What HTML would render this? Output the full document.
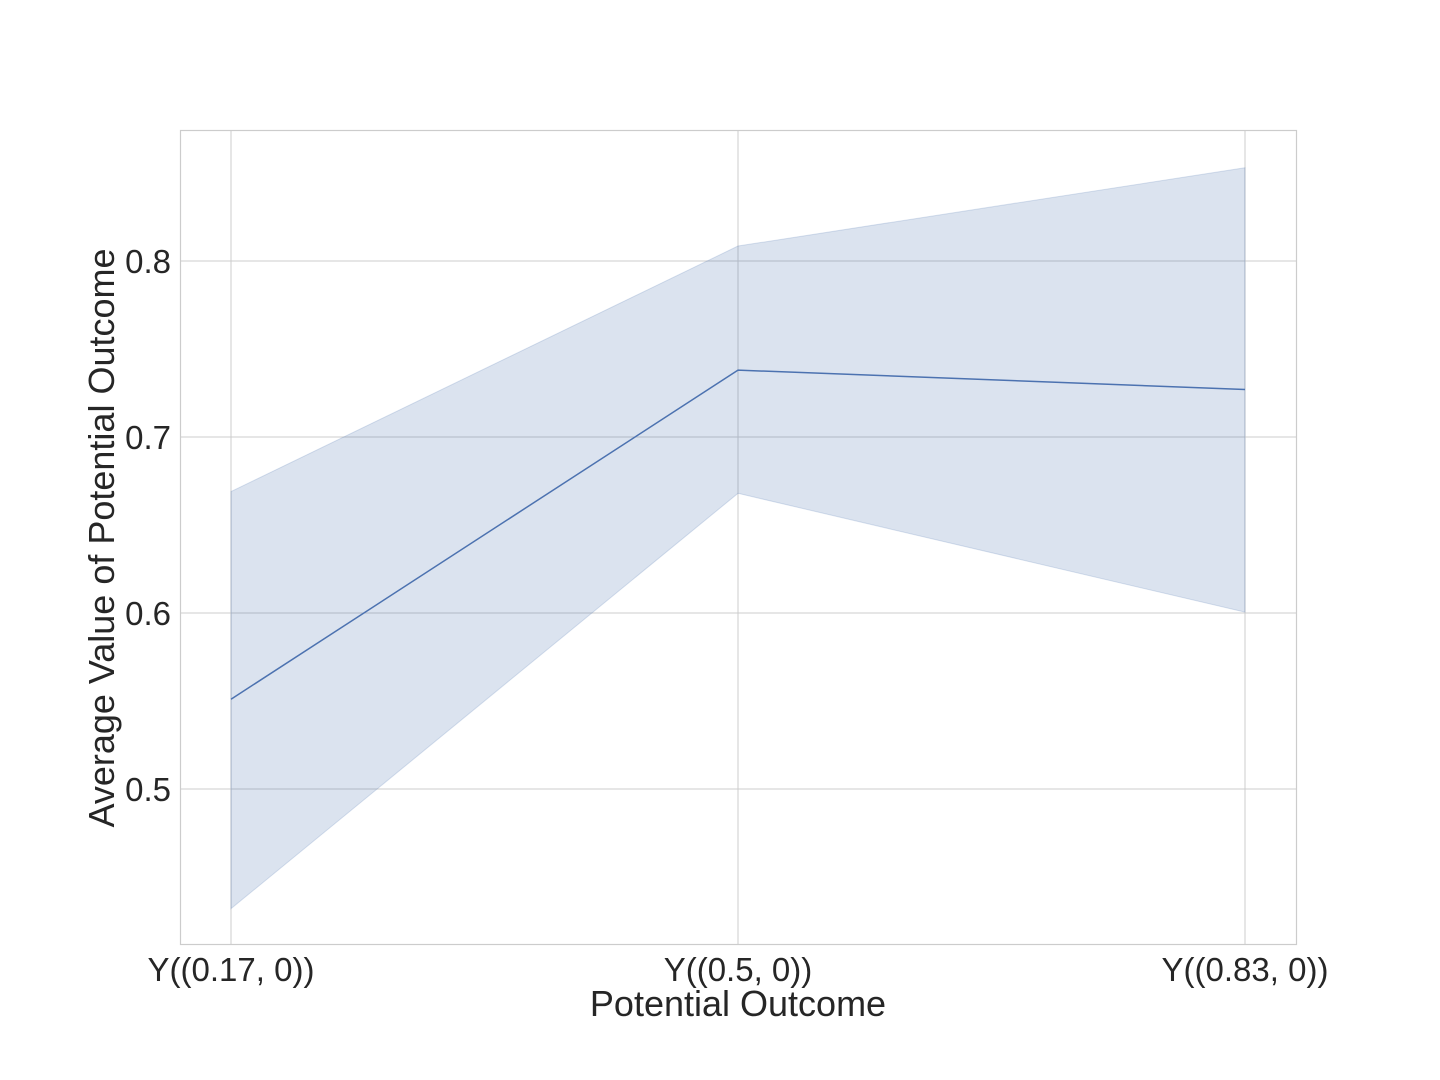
<!DOCTYPE html>
<html><head><meta charset="utf-8"><style>
html,body{margin:0;padding:0;background:#fff;}
svg{display:block;font-family:"Liberation Sans",Arial,sans-serif;}
</style></head><body>
<svg id="chart" width="1440" height="1080">
  <g id="grid"></g>
  <g id="band"></g>
  <g id="line"></g>
  <rect x="180.5" y="130.5" width="1116" height="814" fill="none" stroke="#cccccc" stroke-width="1.2"/>
  <g id="ticks"></g>
  <text x="738" y="1016" font-size="36" fill="#262626" text-anchor="middle">Potential Outcome</text>
  <text transform="translate(114,538) rotate(-90)" font-size="36" fill="#262626" text-anchor="middle">Average Value of Potential Outcome</text>
</svg>
<script>
const categories = ["Y((0.17, 0))", "Y((0.5, 0))", "Y((0.83, 0))"];
const meanValues = [0.551, 0.738, 0.727];
const upperValues = [0.669, 0.8085, 0.853];
const lowerValues = [0.432, 0.668, 0.6005];
const yTicks = [0.5, 0.6, 0.7, 0.8];

const NS = "http://www.w3.org/2000/svg";
function xPos(i){ return 231 + i * 507; }
function yPos(v){ return 261 + (0.8 - v) * 1760; }
function mk(tag, attrs, parent){ const e=document.createElementNS(NS,tag); for(const k in attrs) e.setAttribute(k,attrs[k]); parent.appendChild(e); return e; }

const grid=document.getElementById('grid'), ticks=document.getElementById('ticks');
yTicks.forEach(v=>{
  const l=mk('line',{x1:180,x2:1296,y1:yPos(v),y2:yPos(v),stroke:'#cccccc','stroke-width':1},grid);
  
  
  const t=mk('text',{x:171,y:yPos(v)+12,'font-size':33,fill:'#262626','text-anchor':'end'},ticks);
  t.textContent=v.toFixed(1);
  
  
});
categories.forEach((c,i)=>{
  const l=mk('line',{x1:xPos(i),x2:xPos(i),y1:130,y2:944,stroke:'#cccccc','stroke-width':1},grid);
  
  
  const t=mk('text',{x:xPos(i),y:981,'font-size':33,fill:'#262626','text-anchor':'middle'},ticks);
  t.textContent=c;
  
  
});
let pts=upperValues.map((v,i)=>xPos(i)+','+yPos(v));
pts=pts.concat(lowerValues.map((v,i)=>xPos(i)+','+yPos(v)).reverse());
const band=mk('polygon',{points:pts.join(' '),fill:'#4c72b0','fill-opacity':0.2,stroke:'#4c72b0','stroke-opacity':0.2},document.getElementById('band'));


const line=mk('polyline',{points:meanValues.map((v,i)=>xPos(i)+','+yPos(v)).join(' '),fill:'none',stroke:'#4c72b0','stroke-width':1.5},document.getElementById('line'));


</script>
</body></html>
